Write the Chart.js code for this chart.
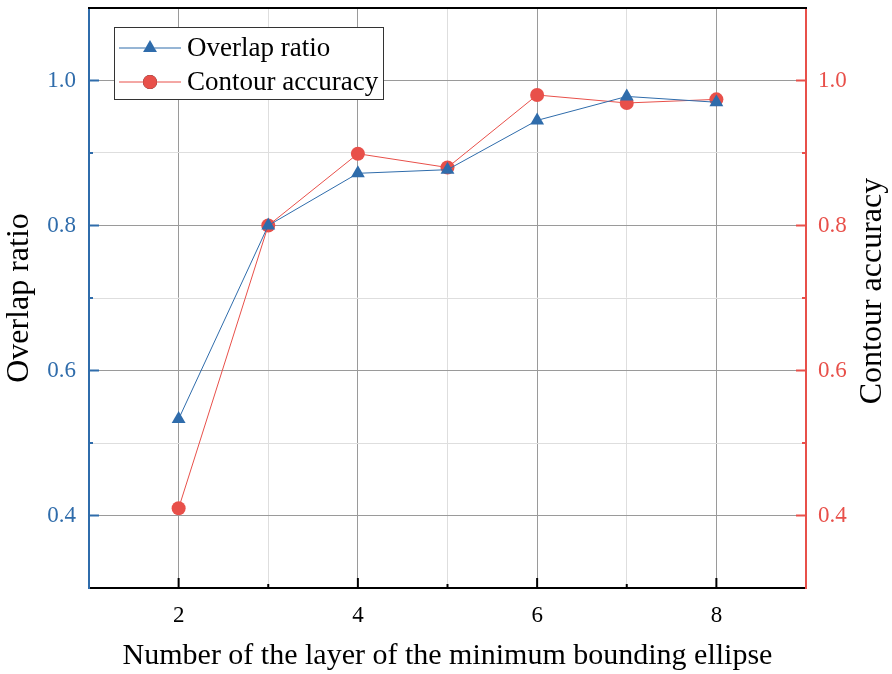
<!DOCTYPE html>
<html>
<head>
<meta charset="utf-8">
<script src="https://cdn.jsdelivr.net/npm/chart.js@4.4.0/dist/chart.umd.min.js"></script>
<style>
  html, body { margin: 0; padding: 0; background: #fff; }
  #wrap { width: 892px; height: 674px; position: relative; }
</style>
</head>
<body>
<div id="wrap"><canvas id="chart"></canvas></div>
<script>
// values
const layers = [2, 3, 4, 5, 6, 7, 8];
const overlapRatio = [0.533, 0.800, 0.872, 0.877, 0.945, 0.978, 0.970];
const contourAccuracy = [0.410, 0.800, 0.899, 0.880, 0.980, 0.969, 0.974];
const xTickLabels = [2, 4, 6, 8];
const yTickLabels = [0.4, 0.6, 0.8, 1.0];

const BLUE = "#2f6cab";
const RED = "#e8504a";
const SERIF = "'Liberation Serif', 'Times New Roman', serif";

const isMajorX = v => xTickLabels.includes(Math.round(v));
const isMajorY = v => yTickLabels.some(t => Math.abs(t - v) < 1e-6);

function gridColor(major, edge) {
    if (edge) return "rgba(0,0,0,0)";
    return major ? "#9a9a9a" : "#dedede";
}

// inward tick marks, top frame line, legend box, right-hand title
const decorations = {
    id: "decorations",
    afterDraw(chart) {
        const { ctx, chartArea: a, scales } = chart;
        ctx.save();

        // top frame
        ctx.strokeStyle = "#000";
        ctx.lineWidth = 2;
        ctx.beginPath();
        ctx.moveTo(a.left - 1, a.top);
        ctx.lineTo(a.right + 1, a.top);
        ctx.stroke();

        // bottom ticks (pointing up)
        ctx.lineWidth = 2;
        ctx.strokeStyle = "#000";
        scales.x.ticks.forEach(t => {
            if (t.value <= 1 || t.value >= 9) return;
            const px = scales.x.getPixelForValue(t.value);
            const len = isMajorX(t.value) ? 10 : 4;
            ctx.beginPath();
            ctx.moveTo(px, a.bottom);
            ctx.lineTo(px, a.bottom - len);
            ctx.stroke();
        });

        // left / right ticks (pointing inward)
        [["y", BLUE, 1], ["y2", RED, -1]].forEach(([id, color, dir]) => {
            const sc = scales[id];
            const x0 = dir > 0 ? a.left : a.right;
            ctx.strokeStyle = color;
            sc.ticks.forEach(t => {
                if (t.value <= 0.301 || t.value >= 1.099) return;
                const py = sc.getPixelForValue(t.value);
                const len = isMajorY(t.value) ? 10 : 4;
                ctx.beginPath();
                ctx.moveTo(x0, py);
                ctx.lineTo(x0 + dir * len, py);
                ctx.stroke();
            });
        });

        // legend
        const lx = 114, ly = 27, lw = 269, lh = 72;
        ctx.fillStyle = "#fff";
        ctx.fillRect(lx, ly, lw, lh);
        ctx.strokeStyle = "#333";
        ctx.lineWidth = 1;
        ctx.strokeRect(lx + 0.5, ly + 0.5, lw, lh);

        const rows = [
            { label: "Overlap ratio", ds: chart.data.datasets[0], y: 48 },
            { label: "Contour accuracy", ds: chart.data.datasets[1], y: 82 }
        ];
        rows.forEach(r => {
            ctx.strokeStyle = r.ds.borderColor;
            ctx.lineWidth = 1;
            ctx.beginPath();
            ctx.moveTo(119, r.y);
            ctx.lineTo(181, r.y);
            ctx.stroke();
            Chart.helpers.drawPoint(ctx, {
                pointStyle: r.ds.pointStyle,
                radius: r.ds.pointRadius,
                rotation: 0,
                borderWidth: 0
            }, 150, r.y);
            ctx.fillStyle = r.ds.pointBackgroundColor;
            ctx.fill();
            ctx.fillStyle = "#000";
            ctx.font = "27px " + SERIF;
            ctx.textAlign = "left";
            ctx.textBaseline = "middle";
            ctx.fillText(r.label, 187, r.y + 1);
        });

        // right axis title, reading bottom to top
        ctx.translate(873, 291);
        ctx.rotate(-Math.PI / 2);
        ctx.fillStyle = "#000";
        ctx.font = "32px " + SERIF;
        ctx.textAlign = "center";
        ctx.textBaseline = "middle";
        ctx.fillText("Contour accuracy", 0, 0);

        ctx.restore();
    }
};

function noPad(s) {
    s.paddingTop = 0;
    s.paddingBottom = 0;
}

const ctx = document.getElementById("chart");
new Chart(ctx, {
    type: "line",
    data: {
        datasets: [{
            label: "Overlap ratio",
            data: layers.map((x, i) => ({ x: x, y: overlapRatio[i] })),
            yAxisID: "y",
            borderColor: BLUE,
            borderWidth: 1,
            pointStyle: "triangle",
            pointRadius: 8,
            pointBorderWidth: 0,
            pointBackgroundColor: BLUE,
            pointBorderColor: BLUE,
            tension: 0,
        }, {
            label: "Contour accuracy",
            data: layers.map((x, i) => ({ x: x, y: contourAccuracy[i] })),
            yAxisID: "y2",
            borderColor: RED,
            borderWidth: 1,
            pointStyle: "circle",
            pointRadius: 7,
            pointBorderWidth: 0,
            pointBackgroundColor: RED,
            pointBorderColor: RED,
            tension: 0,
        }]
    },
    options: {
        responsive: true,
        maintainAspectRatio: false,
        animation: false,
        layout: { padding: { top: 8, left: 0, right: 0, bottom: 0 } },
        plugins: {
            legend: { display: false },
            tooltip: { enabled: false },
        },
        scales: {
            x: {
                type: "linear",
                min: 1,
                max: 9,
                afterFit(s) { s.height = 86; s.paddingLeft = 0; s.paddingRight = 0; },
                border: { color: "#000", width: 2 },
                grid: {
                    drawTicks: false,
                    lineWidth: 1,
                    color: c => gridColor(isMajorX(c.tick.value), c.tick.value <= 1 || c.tick.value >= 9),
                },
                ticks: {
                    stepSize: 1,
                    padding: 14,
                    color: "#000",
                    font: { family: SERIF, size: 23 },
                    autoSkip: false,
                    maxRotation: 0,
                    callback: v => isMajorX(v) ? String(v) : "",
                },
                title: {
                    display: true,
                    text: "Number of the layer of the minimum bounding ellipse",
                    color: "#000",
                    font: { family: SERIF, size: 30 },
                    padding: 0,
                },
            },
            y: {
                position: "left",
                min: 0.3,
                max: 1.1,
                afterFit(s) { s.width = 89; noPad(s); },
                border: { color: BLUE, width: 2 },
                grid: {
                    drawTicks: false,
                    lineWidth: 1,
                    color: c => gridColor(isMajorY(c.tick.value), c.tick.value <= 0.301 || c.tick.value >= 1.099),
                },
                ticks: {
                    stepSize: 0.1,
                    padding: 13,
                    color: BLUE,
                    font: { family: SERIF, size: 23 },
                    autoSkip: false,
                    callback: v => isMajorY(v) ? v.toFixed(1) : "",
                },
                title: {
                    display: true,
                    text: "Overlap ratio",
                    color: "#000",
                    font: { family: SERIF, size: 32 },
                    padding: 0,
                },
            },
            y2: {
                position: "right",
                min: 0.3,
                max: 1.1,
                afterFit(s) { s.width = 86; noPad(s); },
                border: { color: RED, width: 2 },
                grid: { display: false, drawTicks: false },
                ticks: {
                    stepSize: 0.1,
                    padding: 12,
                    color: RED,
                    font: { family: SERIF, size: 23 },
                    autoSkip: false,
                    callback: v => isMajorY(v) ? v.toFixed(1) : "",
                },
            },
        },
    },
    plugins: [decorations],
});
</script>
</body>
</html>
